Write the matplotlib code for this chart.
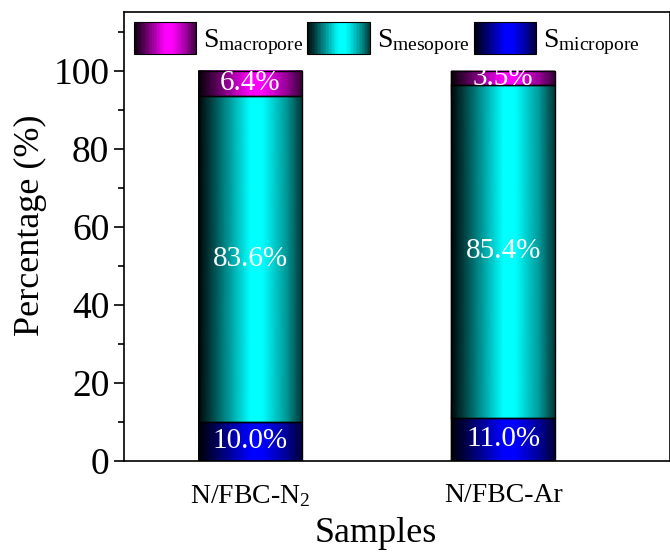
import numpy as np
import matplotlib
matplotlib.use('Agg')
import matplotlib.pyplot as plt
from matplotlib.colors import LinearSegmentedColormap, to_rgb
from matplotlib.legend_handler import HandlerBase
from matplotlib.patches import Rectangle

plt.rcParams['font.family'] = ['Liberation Serif', 'DejaVu Serif']
plt.rcParams['mathtext.fontset'] = 'custom'
plt.rcParams['mathtext.rm'] = 'Liberation Serif'
plt.rcParams['mathtext.it'] = 'Liberation Serif:italic'

samples = ['N/FBC-N$_2$', 'N/FBC-Ar']
micropore = [10.0, 11.0]
mesopore = [83.6, 85.4]
macropore = [6.4, 3.5]
labels = ['S$_{\\mathrm{macropore}}$', 'S$_{\\mathrm{mesopore}}$', 'S$_{\\mathrm{micropore}}$']
colors = {'micro': '#0000ff', 'meso': '#00ffff', 'macro': '#ff00ff'}


def make_cmap(color):
    c = np.array(to_rgb(color))
    stops = [(0, 0.03), (0.12, 0.25), (0.5, 1.0), (0.62, 1.0), (0.85, 0.6), (1, 0.22)]
    return LinearSegmentedColormap.from_list('g', [(p, tuple(c * k)) for p, k in stops])


class GradientHandler(HandlerBase):
    def __init__(self, color, n=40):
        super().__init__()
        self.cmap = make_cmap(color)
        self.n = n

    def create_artists(self, legend, orig_handle, xdescent, ydescent,
                       width, height, fontsize, trans):
        arts = []
        w = width / self.n
        for i in range(self.n):
            r = Rectangle((-xdescent + i * w, -ydescent), w * 1.05, height,
                          facecolor=self.cmap((i + 0.5) / self.n),
                          edgecolor='none', transform=trans)
            arts.append(r)
        arts.append(Rectangle((-xdescent, -ydescent), width, height,
                              facecolor='none', edgecolor='black', lw=0.8,
                              transform=trans))
        return arts


fig = plt.figure(figsize=(6.7, 5.52), dpi=100)
ax = fig.add_axes([0.185, 0.165, 0.815, 0.813])

x = np.arange(len(samples))
width = 0.41
u = np.linspace(0, 1, 41)

segments = [('micro', micropore, np.zeros(2)),
            ('meso', mesopore, np.array(micropore)),
            ('macro', macropore, np.array(micropore) + np.array(mesopore))]

handles = {}
for key, vals, bottom in segments:
    bars = ax.bar(x, vals, width, bottom=bottom, facecolor='none',
                  edgecolor='black', linewidth=1.0, zorder=3)
    handles[key] = bars
    cmap = make_cmap(colors[key])
    for b, v, bt in zip(bars, vals, bottom):
        x0 = b.get_x()
        X, Y = np.meshgrid(x0 + u * b.get_width(), [bt, bt + v])
        C = np.vstack([u, u])
        ax.pcolormesh(X, Y, C, cmap=cmap, shading='gouraud', vmin=0, vmax=1,
                      zorder=2, antialiased=False)
        ax.text(x0 + b.get_width() / 2, bt + v / 2, f'{v:.1f}%',
                ha='center', va='center', color='white', fontsize=21, zorder=4)

ax.set_xlim(-0.5, 1.66)
ax.set_ylim(0, 115)
ax.set_yticks(range(0, 101, 20))
ax.set_yticks(range(0, 115, 10), minor=True)
ax.set_xticks(x)
ax.set_xticklabels(samples, fontsize=20)
ax.tick_params(axis='y', which='major', labelsize=27, length=7, width=1.2, direction='out')
ax.tick_params(axis='y', which='minor', length=4, width=1.2, direction='out')
ax.tick_params(axis='x', length=0, pad=16)
for s in ax.spines.values():
    s.set_linewidth(1.2)

ax.set_xlabel('Samples', fontsize=26)
ax.set_ylabel('Percentage (%)', fontsize=26)
ax.xaxis.set_label_coords(0.4615, -0.125)
ax.yaxis.set_label_coords(-0.141, 0.526)

order = ['macro', 'meso', 'micro']
ax.legend([handles[k] for k in order], labels, ncol=3, loc='upper left',
          frameon=False, fontsize=20, handlelength=2.25, handleheight=1.4,
          handletextpad=0.25, columnspacing=0.15, borderaxespad=0.15,
          borderpad=0.2,
          handler_map={handles[k]: GradientHandler(colors[k]) for k in order})

fig.savefig('out.png', dpi=100)
